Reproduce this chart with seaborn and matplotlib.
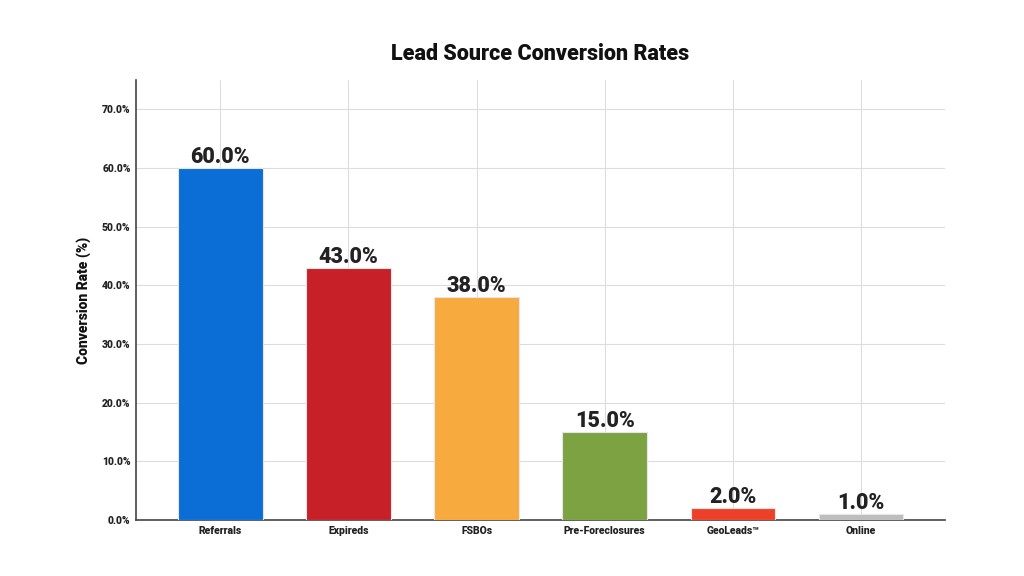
import matplotlib
matplotlib.use("Agg")
import matplotlib.pyplot as plt
import seaborn as sns
import pandas as pd
from matplotlib.ticker import FuncFormatter

# lead sources and their conversion rates (%)
sources = ["Referrals", "Expireds", "FSBOs", "Pre-Foreclosures", "GeoLeads™", "Online"]
rates = [60.0, 43.0, 38.0, 15.0, 2.0, 1.0]
colors = ["#0A6ED6", "#C82028", "#F7AA3E", "#7CA241", "#EE4029", "#BDBDBD"]

df = pd.DataFrame({"source": sources, "rate": rates})

sns.set_style("whitegrid")
plt.rcParams['font.family'] = ['Roboto', 'DejaVu Sans']

fig = plt.figure(figsize=(10.24, 5.76), dpi=100)
ax = fig.add_axes([0.133, 0.097, 0.79, 0.764])

sns.barplot(data=df, x="source", y="rate", hue="source", palette=colors,
            saturation=1, legend=False, width=0.66, ax=ax,
            edgecolor="#e6e6e6", linewidth=0.8, zorder=3)

for i, v in enumerate(rates):
    ax.text(i, v, "%.1f%%" % v, ha="center", va="bottom",
            fontsize=15.5, fontweight="heavy", color="#222222", zorder=4)

ax.set_xlim(-0.656, 5.656)
ax.set_ylim(0, 75)
ax.set_yticks([0, 10, 20, 30, 40, 50, 60, 70])
ax.yaxis.set_major_formatter(FuncFormatter(lambda v, p: "%.1f%%" % v))
ax.grid(True, color="#dddddd", linewidth=0.8, zorder=0)
ax.set_axisbelow(True)

for s in ["top", "right"]:
    ax.spines[s].set_visible(False)
ax.spines["left"].set_color("#444444")
ax.spines["bottom"].set_color("#444444")
ax.spines["left"].set_linewidth(1.2)
ax.spines["bottom"].set_linewidth(1.2)

ax.tick_params(axis="both", length=0, labelsize=7.5, pad=4)
for lab in ax.get_xticklabels() + ax.get_yticklabels():
    lab.set_fontweight("heavy")
    lab.set_color("#222222")

ax.set_xlabel("")
ax.set_ylabel("Conversion Rate (%)", fontsize=10, fontweight="heavy", color="#111111", labelpad=8)
fig.suptitle("Lead Source Conversion Rates", x=0.527, y=0.925, fontsize=15.5,
             fontweight="heavy", color="#111111")

fig.savefig("out.png", dpi=100)
